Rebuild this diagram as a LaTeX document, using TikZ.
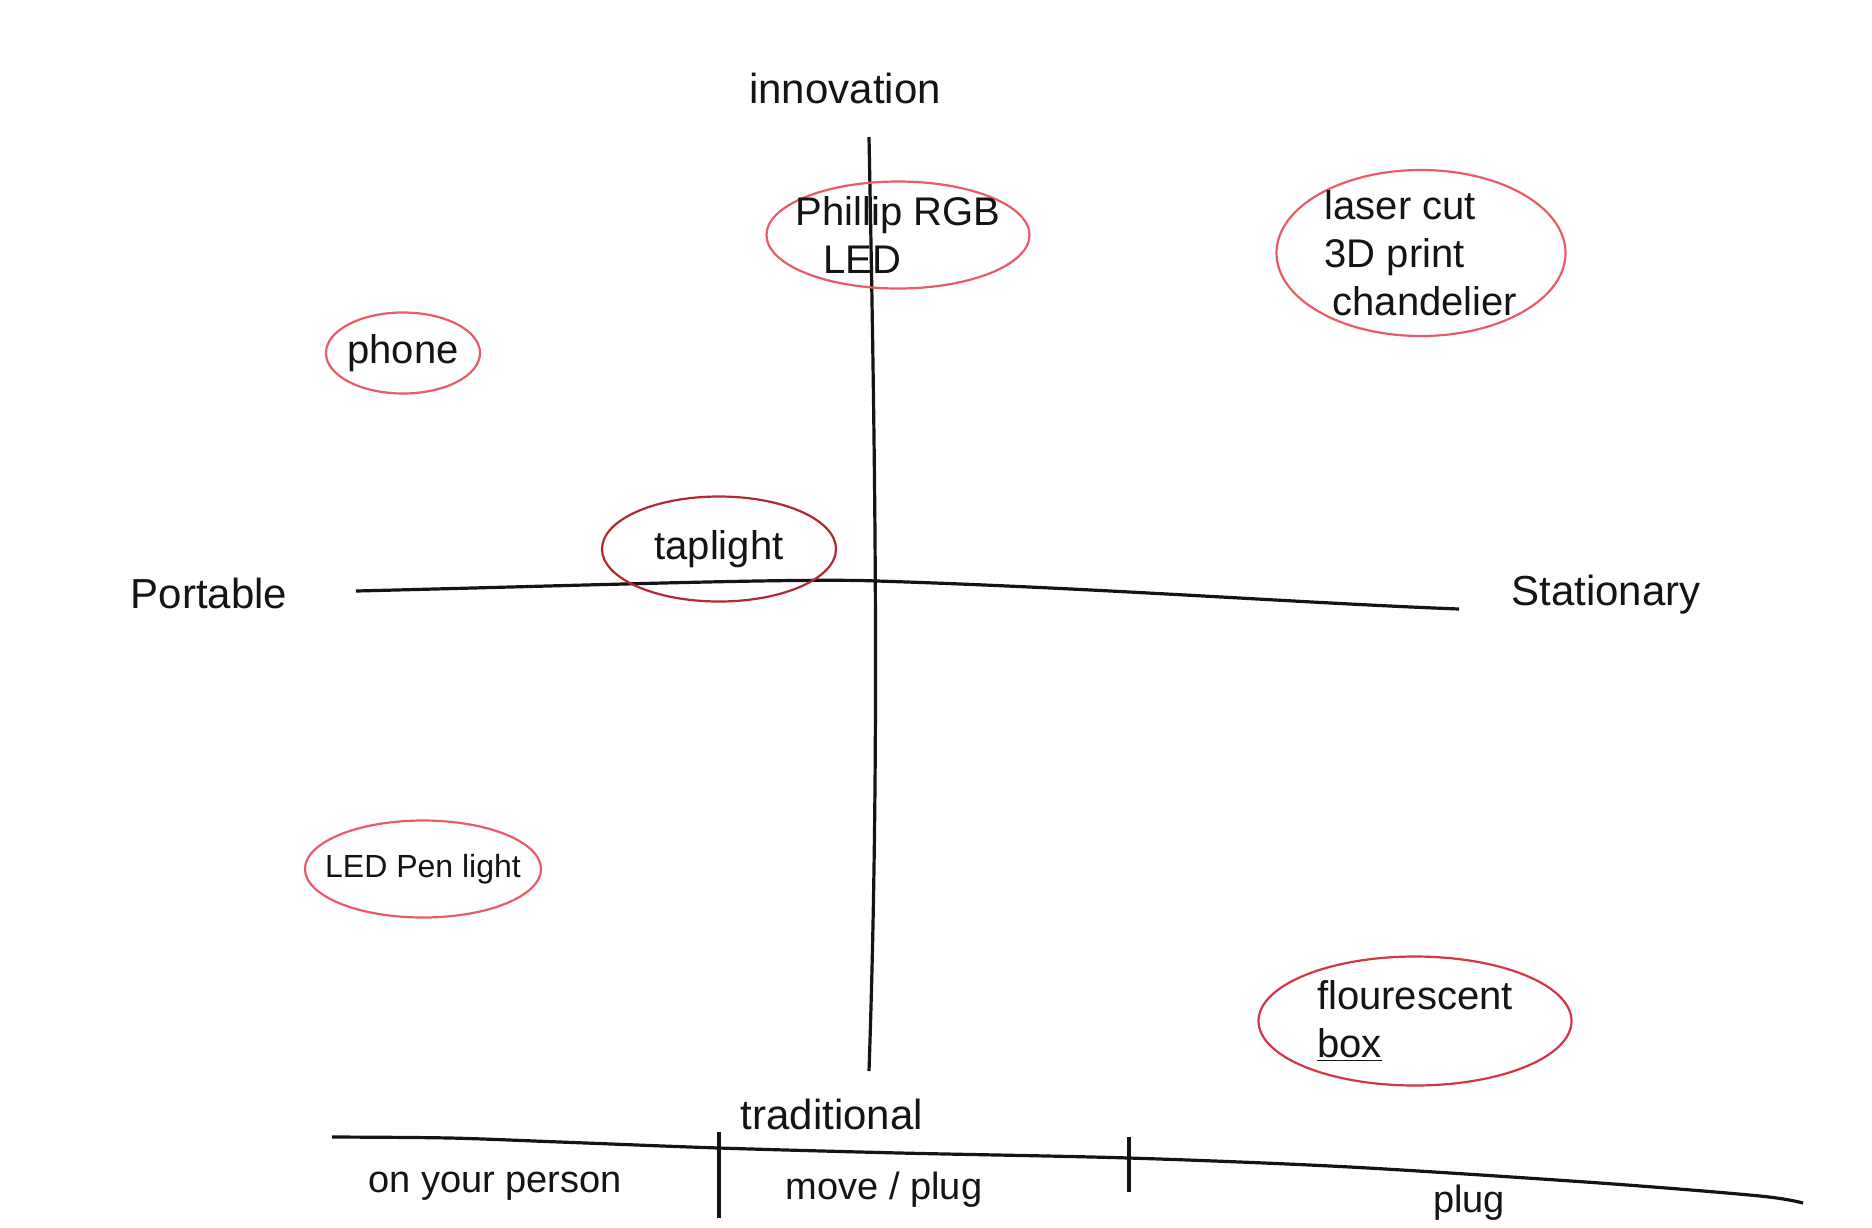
\documentclass[tikz,border=0pt]{standalone}
\usepackage{fontspec}
\setmainfont{Liberation Sans}
\usetikzlibrary{
    calc,
    shapes.geometric,
    backgrounds
}
\definecolor{ink}{RGB}{20,20,20}
\definecolor{marker}{RGB}{232,92,104}
\definecolor{darkmarker}{RGB}{178,42,48}
\definecolor{midmarker}{RGB}{210,55,70}
\tikzset{
    line cap=round,
    line join=round,
    axis/.style={
        draw=ink,
        line width=1.6pt
    },
    axislabel/.style={
        font=\fontsize{21}{24}\selectfont,
        text=ink
    },
    ringed/.style={
        ellipse,
        draw=marker,
        line width=1.1pt,
        align=left,
        inner sep=-8pt,
        font=\fontsize{20}{24}\selectfont,
        text=ink
    },
    scalelabel/.style={
        font=\fontsize{19}{22}\selectfont,
        text=ink
    }
}
\begin{document}
\begin{tikzpicture}[x=0.5pt, y=-0.5pt]
\useasboundingbox[fill=white] (0,0) rectangle (1872,1227);

% Axes
\coordinate (topend) at (869,137);
\coordinate (bottomend) at (869,1071);
\coordinate (leftend) at (356,591);
\coordinate (rightend) at (1459,609);
\draw[axis] (topend) .. controls (875,450) and (880,750) .. (bottomend);
\draw[axis] (leftend) .. controls (600,585) and (800,578) .. (877,581)
    .. controls (1100,588) and (1300,603) .. (rightend);

\node[axislabel] (innov) at (845,88) {innovation};
\node[axislabel] (trad) at (832,1114) {traditional};
\node[axislabel] (port) at (209,593) {Portable};
\node[axislabel] (stat) at (1606,595) {Stationary};

% Ideas
\node[ringed, minimum width=131.5pt, minimum height=53.5pt] (philips) at (898,235) {Phillip RGB\\\hspace*{14pt}LED};
\node[ringed, minimum width=144.5pt, minimum height=83pt] (laser) at (1421,253) {laser cut\\3D print\\\hspace*{4pt}chandelier};
\node[ringed, minimum width=77pt, minimum height=40.5pt] (phone) at (403,353) {phone};
\node[ringed, draw=darkmarker, minimum width=117pt, minimum height=52.5pt] (taplight) at (719,549) {taplight};
\node[ringed, minimum width=118pt, minimum height=48.5pt, font=\fontsize{16}{19}\selectfont] (penlight) at (423,869) {LED Pen light};
\node[ringed, draw=midmarker, minimum width=156.5pt, minimum height=64.5pt] (flour) at (1415,1021) {flourescent\\\underline{box}};

% Scale along the bottom
\coordinate (scalestart) at (332,1137);
\coordinate (scaleend) at (1803,1203);
\coordinate (tickA) at (719,1148);
\coordinate (tickB) at (1129,1158);
\draw[axis] plot[smooth, tension=0.5] coordinates {(332,1137) (450,1138) (560,1142) (719,1148) (900,1153) (1129,1158) (1350,1167) (1600,1183) (1760,1196) (1803,1203)};
\draw[axis] ($(tickA)+(0,-16)$) -- ($(tickA)+(0,70)$);
\draw[axis] ($(tickB)+(0,-21)$) -- ($(tickB)+(0,34)$);

\node[scalelabel] (person) at (495,1186) {on your person};
\node[scalelabel] (moveplug) at (884,1190) {move / plug};
\node[scalelabel] (plugonly) at (1469,1203) {plug};

\end{tikzpicture}
\end{document}
